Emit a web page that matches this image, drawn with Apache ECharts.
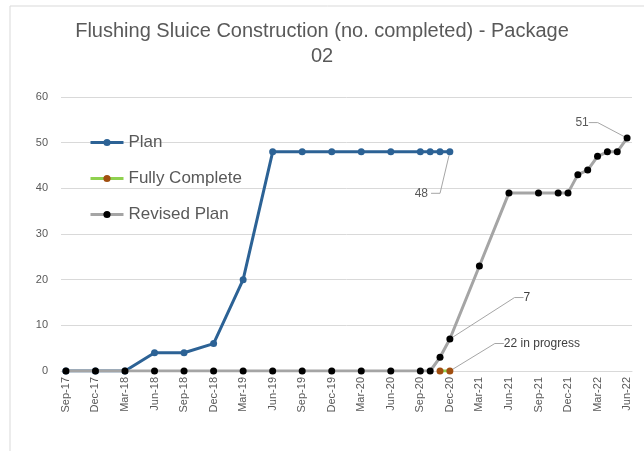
<!DOCTYPE html>
<html>
<head>
<meta charset="utf-8">
<script src="https://cdn.jsdelivr.net/npm/echarts@6/dist/echarts.min.js"></script>
<style>
html,body{margin:0;padding:0;background:#fff;}
#chart{width:644px;height:451px;}
</style>
</head>
<body>
<div id="chart"></div>
<script>
// Monthly categories (axis labels shown every 3rd month)
const months = [
  'Sep-17','Oct-17','Nov-17','Dec-17','Jan-18','Feb-18','Mar-18','Apr-18','May-18','Jun-18',
  'Jul-18','Aug-18','Sep-18','Oct-18','Nov-18','Dec-18','Jan-19','Feb-19','Mar-19','Apr-19',
  'May-19','Jun-19','Jul-19','Aug-19','Sep-19','Oct-19','Nov-19','Dec-19','Jan-20','Feb-20',
  'Mar-20','Apr-20','May-20','Jun-20','Jul-20','Aug-20','Sep-20','Oct-20','Nov-20','Dec-20',
  'Jan-21','Feb-21','Mar-21','Apr-21','May-21','Jun-21','Jul-21','Aug-21','Sep-21','Oct-21',
  'Nov-21','Dec-21','Jan-22','Feb-22','Mar-22','Apr-22','May-22','Jun-22'
];

const planDates  = ['Sep-17','Dec-17','Mar-18','Jun-18','Sep-18','Dec-18','Mar-19','Jun-19','Sep-19','Dec-19','Mar-20','Jun-20','Sep-20','Oct-20','Nov-20','Dec-20'];
const planValues = [0, 0, 0, 4, 4, 6, 20, 48, 48, 48, 48, 48, 48, 48, 48, 48];

const completeDates  = ['Nov-20','Dec-20'];
const completeValues = [0, 0];

const revisedDates  = ['Sep-17','Dec-17','Mar-18','Jun-18','Sep-18','Dec-18','Mar-19','Jun-19','Sep-19','Dec-19','Mar-20','Jun-20','Sep-20','Oct-20','Nov-20','Dec-20','Mar-21','Jun-21','Sep-21','Nov-21','Dec-21','Jan-22','Feb-22','Mar-22','Apr-22','May-22','Jun-22'];
const revisedValues = [0, 0, 0, 0, 0, 0, 0, 0, 0, 0, 0, 0, 0, 0, 3, 7, 23, 39, 39, 39, 39, 43, 44, 47, 48, 48, 51];

// Annotations: [series, date, text]
const notes = [
  ['Plan', 'Dec-20', '48'],
  ['Revised Plan', 'Jun-22', '51'],
  ['Revised Plan', 'Dec-20', '7'],
  ['Fully Complete', 'Dec-20', '22 in progress']
];

const yTicks = {min: 0, max: 60, interval: 10};

// label offsets (styling)
const noteStyle = {
  '48': {dx: -47, dy: 56, color: '#595959', padding: [0, 3, 0, 40]},
  '51': {dx: -45, dy: -1, color: '#595959', padding: 0},
  '7': {dx: 77, dy: -27, color: '#404040', padding: 0},
  '22 in progress': {dx: 92, dy: -13, color: '#404040', padding: 0}
};

function build(name, dates, values) {
  return dates.map((d, i) => {
    const item = {value: [d, values[i]]};
    const n = notes.find(x => x[0] === name && x[1] === d);
    if (n) {
      const s = noteStyle[n[2]];
      item.label = {show: true, formatter: n[2], color: s.color, fontSize: 12,
                    padding: s.padding, backgroundColor: 'rgba(255,255,255,0)',
                    fontFamily: 'Liberation Sans'};
      item.labelLine = {show: true, length2: 9, lineStyle: {color: '#a6a6a6', width: 1}};
      item.noteText = n[2];
    }
    return item;
  });
}

function layoutFor(data) {
  return function (p) {
    const it = data[p.dataIndex];
    if (it && it.noteText) {
      const s = noteStyle[it.noteText];
      return {dx: s.dx, dy: s.dy};
    }
    return {};
  };
}

const planData = build('Plan', planDates, planValues);
const completeData = build('Fully Complete', completeDates, completeValues);
const revisedData = build('Revised Plan', revisedDates, revisedValues);

const chart = echarts.init(document.getElementById('chart'), null, {renderer: 'canvas'});
chart.setOption({
  animation: false,
  backgroundColor: '#fff',
  textStyle: {fontFamily: 'Liberation Sans'},
  title: {
    text: 'Flushing Sluice Construction (no. completed) - Package\n02',
    left: 'center',
    top: 14,
    textStyle: {color: '#595959', fontSize: 20, fontWeight: 'normal', lineHeight: 25, fontFamily: 'Liberation Sans'}
  },
  graphic: [{
    type: 'rect', silent: true, z: -10,
    shape: {x: 10, y: 6, width: 700, height: 500},
    style: {fill: 'none', stroke: '#d9d9d9', lineWidth: 1}
  }],
  legend: {
    orient: 'vertical',
    left: 84,
    top: 129,
    itemWidth: 33,
    itemHeight: 9,
    itemGap: 19,
    data: ['Plan', 'Fully Complete', 'Revised Plan'],
    lineStyle: {width: 3},
    textStyle: {color: '#595959', fontSize: 17, fontFamily: 'Liberation Sans'}
  },
  grid: {left: 61, right: 12, top: 97, bottom: 80},
  xAxis: {
    type: 'category',
    data: months,
    boundaryGap: true,
    axisLine: {lineStyle: {color: '#d9d9d9'}},
    axisTick: {show: false},
    axisLabel: {interval: 2, rotate: 90, color: '#595959', fontSize: 11, margin: 6},
    splitLine: {show: false}
  },
  yAxis: {
    type: 'value',
    min: yTicks.min, max: yTicks.max, interval: yTicks.interval,
    axisLine: {show: false},
    axisTick: {show: false},
    axisLabel: {color: '#595959', fontSize: 11, margin: 13},
    splitLine: {lineStyle: {color: '#d9d9d9'}}
  },
  series: [
    {
      name: 'Plan', type: 'line', data: planData, z: 2,
      symbol: 'circle', symbolSize: 7, showAllSymbol: true,
      lineStyle: {color: '#2c6295', width: 3},
      itemStyle: {color: '#2c6295'},
      label: {show: false},
      labelLayout: layoutFor(planData)
    },
    {
      name: 'Fully Complete', type: 'line', data: completeData, z: 4,
      symbol: 'circle', symbolSize: 7, showAllSymbol: true,
      lineStyle: {color: '#8fd14f', width: 3},
      itemStyle: {color: '#a14f10'},
      label: {show: false},
      labelLayout: layoutFor(completeData)
    },
    {
      name: 'Revised Plan', type: 'line', data: revisedData, z: 3,
      symbol: 'circle', symbolSize: 7, showAllSymbol: true,
      lineStyle: {color: '#a5a5a5', width: 3},
      itemStyle: {color: '#000000'},
      label: {show: false},
      labelLayout: layoutFor(revisedData)
    }
  ]
});
</script>
</body>
</html>
